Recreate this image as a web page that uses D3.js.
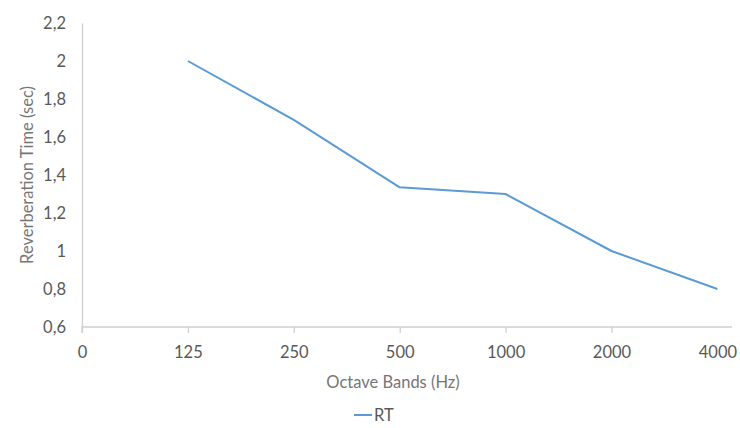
<!DOCTYPE html>
<html><head><meta charset="utf-8">
<script src="https://cdn.jsdelivr.net/npm/d3@7"></script>
<style>body{margin:0;background:#fff;}svg{display:block;}text{font-family:"Lato","Open Sans",sans-serif;}</style>
</head><body><svg id="c" width="740" height="428"></svg>
<script>
const categories = ["0","125","250","500","1000","2000","4000"];
const seriesName = "RT";
const rtValues = [null, 2.0, 1.69, 1.335, 1.3, 1.0, 0.8];
const yTicks = [0.6, 0.8, 1.0, 1.2, 1.4, 1.6, 1.8, 2.0, 2.2];

(function () {
const svg = d3.select("#c");
const mLeft = 82, mRight = 717.4, mTop = 23, mBottom = 327;
const fs = "16.5px";
const x = d3.scalePoint().domain(categories).range([mLeft, mRight]);
const y = d3.scaleLinear().domain([0.6, 2.2]).range([mBottom, mTop]);
const fmt = v => String(+v.toFixed(1)).replace(".", ",");

// y axis
const ya = svg.append("g").attr("transform", `translate(${mLeft},0)`)
  .call(d3.axisLeft(y).tickValues(yTicks).tickFormat(fmt).tickSize(0).tickPadding(16));
ya.select(".domain").attr("stroke", "#d0d0d0").attr("stroke-width", 1.3);
ya.selectAll("text").attr("fill", "#595959").style("font-size", fs);

// x axis
const xa = svg.append("g").attr("transform", `translate(0,${mBottom})`)
  .call(d3.axisBottom(x).tickSize(6).tickPadding(13));
xa.select(".domain").attr("d", `M${mLeft},6V0H732`).attr("stroke", "#d0d0d0").attr("stroke-width", 1.3);
xa.selectAll(".tick line").attr("stroke", "#d0d0d0").attr("stroke-width", 1.3)
  .attr("y2", d => d === categories[categories.length - 1] ? 0 : 6);
xa.selectAll("text").attr("fill", "#595959").style("font-size", fs);

// line
const line = d3.line().defined(d => d.v != null).x(d => x(d.c)).y(d => y(d.v));
const pts = categories.map((c, i) => ({c, v: rtValues[i]}));
svg.append("path").datum(pts).attr("d", line)
  .attr("fill", "none").attr("stroke", "#5b9bd5").attr("stroke-width", 2).attr("stroke-linejoin", "round");

// titles
svg.append("text").attr("x", 393).attr("y", 388).attr("text-anchor", "middle")
  .attr("fill", "#767676").style("font-size", fs).text("Octave Bands (Hz)");
svg.append("text").attr("transform", "translate(33,175) rotate(-90)").attr("text-anchor", "middle")
  .attr("fill", "#767676").style("font-size", fs).text("Reverberation Time (sec)");

// legend
svg.append("line").attr("x1", 354).attr("x2", 372).attr("y1", 415).attr("y2", 415)
  .attr("stroke", "#5b9bd5").attr("stroke-width", 2);
svg.append("text").attr("x", 374).attr("y", 421).attr("fill", "#595959").style("font-size", fs).text(seriesName);
})();
</script></body></html>
